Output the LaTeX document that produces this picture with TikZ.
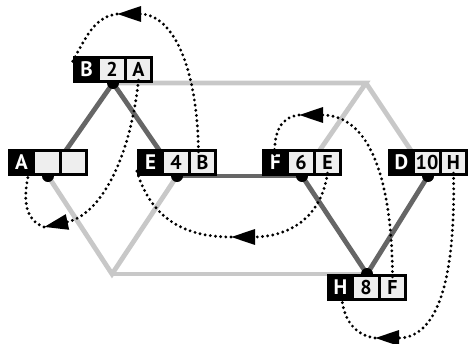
\documentclass[tikz,border=0pt]{standalone}
\usepackage{fontspec}
\setmainfont{PT Sans}
\usetikzlibrary{arrows.meta,backgrounds}
\definecolor{lightedge}{HTML}{C8C8C8}
\definecolor{darkedge}{HTML}{666666}
\definecolor{cellfill}{HTML}{EEEEEE}
\tikzset{
  recouter/.style={draw=black, fill=black, line width=1pt, minimum width=79pt, minimum height=26pt, inner sep=0pt, anchor=north west},
  letcell/.style={text=white, font=\fontsize{21}{21}\selectfont\bfseries, inner sep=0pt},
  valcell/.style={fill=cellfill, draw=none, minimum height=21pt, inner sep=0pt, font=\fontsize{20}{20}\selectfont\bfseries},
  lightline/.style={lightedge, line width=4.8pt},
  darkline/.style={darkedge, line width=4.8pt},
  ptr/.style={black, line width=3.2pt, dash pattern=on 0pt off 5.2pt, line cap=round},
  ptrtip/.style={ptr, -{Triangle[length=24pt,width=15pt]}},
  knob/.style={fill=black}
}
\newcommand\recbox[6]{%
  \node[recouter] (#1) at (#2,#3) {};
  \node[letcell] (#11) at ([shift={(13.5,13.5)}]#1.north west) {#4};
  \node[valcell, minimum width=24pt] (#12) at ([shift={(39,13.5)}]#1.north west) {#5};
  \node[valcell, minimum width=23pt] (#13) at ([shift={(65.5,13.5)}]#1.north west) {#6};
}
\begin{document}
\begin{tikzpicture}[x=1pt,y=-1pt]
\useasboundingbox (0,0) rectangle (468,343);
\recbox{B}{73}{56}{B}{2}{A}
\recbox{A}{8}{149}{A}{}{}
\recbox{E}{137}{149}{E}{4}{B}
\recbox{F}{262}{149}{F}{6}{E}
\recbox{D}{388}{149}{D}{10}{H}
\recbox{H}{327}{274}{H}{8}{F}
\coordinate (apex) at (366,83);
\coordinate (bot) at (112,274);
\begin{scope}[on background layer]
  \draw[lightline] (B.south) -- (apex) -- (F.south);
  \draw[lightline] (apex) -- (D.south);
  \draw[lightline] (A.south) -- (bot) -- (E.south);
  \draw[lightline] (bot) -- (H.north);
  \draw[darkline] (B.south) -- (A.south);
  \draw[darkline] (B.south) -- (E.south);
  \draw[darkline] (E.south) -- (F.south);
  \draw[darkline] (F.south) -- (H.north);
  \draw[darkline] (D.south) -- (H.north);
  \foreach \n in {A,B,E,F,D} \fill[knob] (\n.south) circle (6);
  \fill[knob] (H.north) circle (6);
\end{scope}
% parent pointers
\coordinate (t1) at (117,14);
\coordinate (t2) at (44,227);
\coordinate (t3) at (231,237);
\coordinate (t4) at (299,115);
\coordinate (t5) at (375,338);
\draw[ptrtip] ([xshift=-4]E3.north) .. controls (197,60) and (170,14) .. (t1);
\draw[ptr] (t1) .. controls (95,17) and (87,35) .. ([xshift=-14]B1.north);
\draw[ptrtip] (B3.south) .. controls (130,160) and (100,215) .. (t2);
\draw[ptr] (t2) .. controls (25,220) and (22,200) .. ([xshift=8]A1.south);
\draw[ptrtip] (F3.south) .. controls (320,225) and (280,237) .. (t3);
\draw[ptr] (t3) .. controls (180,237) and (150,215) .. ([xshift=-14]E1.south);
\draw[ptrtip] (H3.north) .. controls (392,180) and (370,115) .. (t4);
\draw[ptr] (t4) .. controls (282,117) and (274,130) .. ([xshift=-1]F1.north);
\draw[ptrtip] (D3.south) .. controls (456,300) and (430,338) .. (t5);
\draw[ptr] (t5) .. controls (355,335) and (343,320) .. ([xshift=1]H1.south);
\end{tikzpicture}
\end{document}
